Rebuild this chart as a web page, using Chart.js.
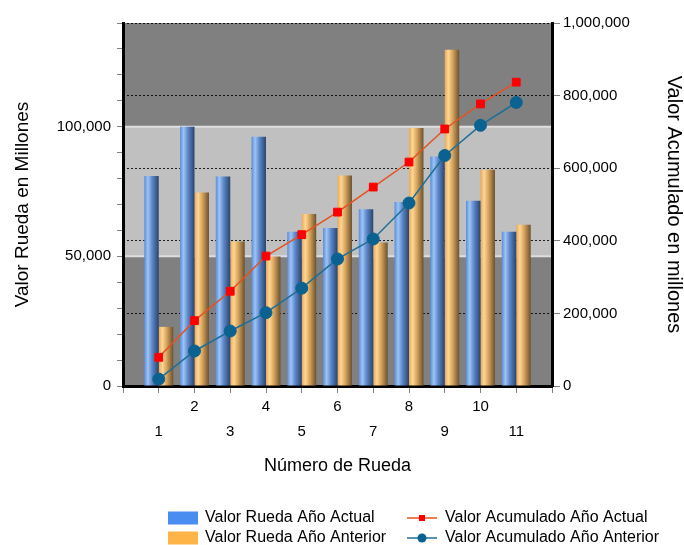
<!DOCTYPE html>
<html>
<head>
<meta charset="utf-8">
<script src="https://cdn.jsdelivr.net/npm/chart.js@4/dist/chart.umd.min.js"></script>
<style>
  html, body { margin: 0; padding: 0; background: #fff; }
  #wrap { width: 684px; height: 545px; position: relative; }
</style>
</head>
<body>
<div id="wrap"><canvas id="chart"></canvas></div>
<script>
//data
const rounds = ['1', '2', '3', '4', '5', '6', '7', '8', '9', '10', '11'];
const valorActual = [81000, 100000, 80800, 96100, 59500, 60900, 68200, 71000, 88500, 71400, 59500];
const valorAnterior = [22800, 74600, 55700, 49900, 66300, 81200, 55300, 99500, 129700, 83400, 62200];
const acumActual = [79000, 180000, 261000, 358000, 417000, 479000, 548000, 617000, 708000, 777000, 837000];
const acumAnterior = [19000, 96500, 151500, 202000, 269500, 350000, 405000, 504000, 635000, 718000, 781000];

//tick labels
const leftLabelValues = [0, 50000, 100000];
const rightLabelValues = [0, 200000, 400000, 600000, 800000, 1000000];

//empty slot either side of the rounds, like the original axis
const labels = [''].concat(rounds, ['']);
const pad = arr => [null].concat(arr, [null]);
const fmt = v => v.toLocaleString('en-US');

const FONT = 'Liberation Sans, Arial, sans-serif';
Chart.defaults.font.family = FONT;
Chart.defaults.color = '#000';

//grey bands behind the plot, alternating on the left axis major steps
const bandsPlugin = {
    id: 'bands',
    beforeDraw(chart) {
        const {ctx, chartArea: a, scales} = chart;
        const y = scales.y;
        ctx.save();
        ctx.fillStyle = '#808080';
        ctx.fillRect(a.left, a.top, a.right - a.left, a.bottom - a.top);
        for (let i = 1; i < leftLabelValues.length; i++) {
            const top = y.getPixelForValue(leftLabelValues[i]);
            const bottom = y.getPixelForValue(leftLabelValues[i - 1]);
            if (i % 2 == 0) {
                ctx.fillStyle = '#c0c0c0';
                ctx.fillRect(a.left, top, a.right - a.left, bottom - top);
            }
        }
        ctx.strokeStyle = '#dedede';
        ctx.lineWidth = 2;
        for (let i = 1; i < leftLabelValues.length; i++) {
            const p = y.getPixelForValue(leftLabelValues[i]);
            ctx.beginPath();
            ctx.moveTo(a.left, p);
            ctx.lineTo(a.right, p);
            ctx.stroke();
        }
        ctx.restore();
    }
};

//cylinder look: each bar gets its own horizontal gradient
const barShade = {
    blue: [[0, '#5a8cd6'], [0.25, '#9ec4f5'], [0.55, '#5b87c9'], [1, '#2a446c']],
    orange: [[0, '#e6a95a'], [0.25, '#ffd692'], [0.55, '#d6a35c'], [1, '#6a5130']]
};
const gradientPlugin = {
    id: 'barGradient',
    beforeDatasetsDraw(chart) {
        const ctx = chart.ctx;
        chart.data.datasets.forEach((ds, i) => {
            if (ds.type != 'bar') return;
            const meta = chart.getDatasetMeta(i);
            meta.data.forEach(el => {
                if (!el.width) return;
                const g = ctx.createLinearGradient(el.x - el.width / 2, 0, el.x + el.width / 2, 0);
                barShade[ds.shade].forEach(s => g.addColorStop(s[0], s[1]));
                el.options = Object.assign({}, el.options, {backgroundColor: g});
            });
        });
    }
};

//two column legend under the chart
const legendPlugin = {
    id: 'twoColLegend',
    afterDraw(chart) {
        const ctx = chart.ctx;
        const ds = chart.data.datasets;
        const bars = ds.filter(d => d.type == 'bar');
        const lines = ds.filter(d => d.type == 'line');
        const rowsY = [518, 538];
        ctx.save();
        ctx.font = '16px ' + FONT;
        ctx.textBaseline = 'middle';
        ctx.fillStyle = '#000';
        bars.forEach((d, r) => {
            ctx.fillStyle = d.legendColor;
            ctx.fillRect(168, rowsY[r] - 6.5, 30, 13);
            ctx.fillStyle = '#000';
            ctx.fillText(d.label, 205, rowsY[r]);
        });
        lines.forEach((d, r) => {
            const y = rowsY[r];
            ctx.strokeStyle = d.borderColor;
            ctx.lineWidth = 1.5;
            ctx.beginPath();
            ctx.moveTo(407, y);
            ctx.lineTo(437, y);
            ctx.stroke();
            ctx.fillStyle = d.pointBackgroundColor;
            if (d.pointStyle == 'rect') {
                ctx.fillRect(422 - 3, y - 3, 6, 6);
            } else {
                ctx.beginPath();
                ctx.arc(422, y, 4.5, 0, Math.PI * 2);
                ctx.fill();
            }
            ctx.fillStyle = '#000';
            ctx.fillText(d.label, 445, y);
        });
        ctx.restore();
    }
};

new Chart(document.getElementById('chart'), {
    data: {
        labels: labels,
        datasets: [{
            type: 'line',
            label: 'Valor Acumulado Año Actual',
            data: pad(acumActual),
            yAxisID: 'y2',
            order: 0,
            borderColor: '#e5521f',
            borderWidth: 1.5,
            pointStyle: 'rect',
            pointRadius: 5.5,
            pointBackgroundColor: '#ff0000',
            pointBorderColor: '#ff0000',
            pointBorderWidth: 1,
            tension: 0
        }, {
            type: 'line',
            label: 'Valor Acumulado Año Anterior',
            data: pad(acumAnterior),
            yAxisID: 'y2',
            order: 0,
            borderColor: '#1d6f97',
            borderWidth: 1.5,
            pointStyle: 'circle',
            pointRadius: 6,
            pointBackgroundColor: '#0b6291',
            pointBorderColor: '#0b6291',
            pointBorderWidth: 1,
            tension: 0
        }, {
            type: 'bar',
            label: 'Valor Rueda Año Actual',
            data: pad(valorActual),
            yAxisID: 'y',
            order: 1,
            shade: 'blue',
            legendColor: '#4a8df0',
            backgroundColor: '#5b8fd9',
            categoryPercentage: 0.81,
            barPercentage: 1
        }, {
            type: 'bar',
            label: 'Valor Rueda Año Anterior',
            data: pad(valorAnterior),
            yAxisID: 'y',
            order: 1,
            shade: 'orange',
            legendColor: '#ffb447',
            backgroundColor: '#f0b868',
            categoryPercentage: 0.81,
            barPercentage: 1
        }]
    },
    options: {
        responsive: true,
        maintainAspectRatio: false,
        animation: false,
        layout: {
            padding: {top: 23, bottom: 67, left: 0, right: 0}
        },
        plugins: {
            legend: {display: false},
            tooltip: {enabled: false}
        },
        scales: {
            x: {
                type: 'category',
                offset: false,
                grid: {
                    offset: false,
                    drawOnChartArea: false,
                    tickLength: 7,
                    tickColor: '#808080'
                },
                border: {display: true, color: '#000', width: 3},
                ticks: {
                    autoSkip: false,
                    maxRotation: 0,
                    padding: 1,
                    font: {size: 15, lineHeight: 1.667},
                    callback: function(value) {
                        const l = this.getLabelForValue(value);
                        if (l === '') return '';
                        return (parseInt(l) % 2 == 0) ? [l] : ['', l];
                    }
                },
                title: {
                    display: true,
                    text: 'Número de Rueda',
                    font: {size: 18, lineHeight: 1.2},
                    padding: {top: 0, bottom: 1}
                },
                afterFit: scale => { scale.height = 92; }
            },
            y: {
                position: 'left',
                min: 0,
                max: 140000,
                grid: {
                    drawOnChartArea: false,
                    tickLength: 6,
                    tickColor: '#808080'
                },
                border: {display: true, color: '#000', width: 3},
                ticks: {
                    stepSize: 10000,
                    autoSkip: false,
                    padding: 6,
                    font: {size: 15},
                    callback: v => leftLabelValues.includes(v) ? fmt(v) : ''
                },
                title: {
                    display: true,
                    text: 'Valor Rueda en Millones',
                    font: {size: 19, lineHeight: 1},
                    padding: {top: 13, bottom: 0}
                },
                afterFit: scale => { scale.width = 123; }
            },
            y2: {
                position: 'right',
                min: 0,
                max: 1000000,
                grid: {
                    drawOnChartArea: true,
                    color: 'rgba(0,0,0,0.85)',
                    lineWidth: 1,
                    tickLength: 8,
                    tickColor: '#808080',
                    tickBorderDash: []
                },
                border: {display: true, color: '#000', width: 3, dash: [2, 2]},
                ticks: {
                    stepSize: 200000,
                    autoSkip: false,
                    padding: 3,
                    font: {size: 15},
                    callback: v => rightLabelValues.includes(v) ? fmt(v) : ''
                },
                title: {
                    display: true,
                    text: 'Valor Acumulado en millones',
                    font: {size: 20, lineHeight: 1},
                    padding: {top: 0, bottom: 0}
                },
                afterFit: scale => { scale.width = 132; }
            }
        }
    },
    plugins: [bandsPlugin, gradientPlugin, legendPlugin]
});
</script>
</body>
</html>
